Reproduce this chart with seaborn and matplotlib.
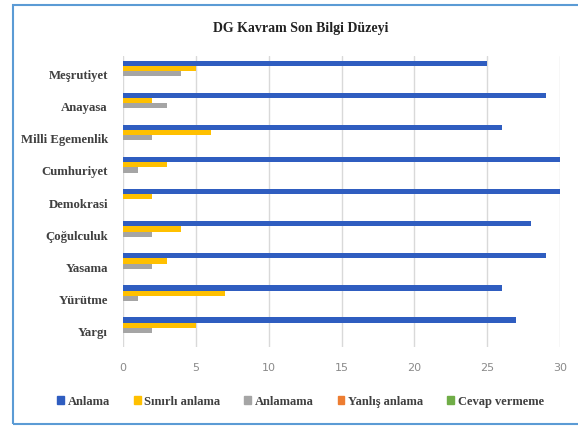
import pandas as pd
import seaborn as sns
import matplotlib.pyplot as plt
from matplotlib.patches import Patch, Rectangle

### data
kavramlar = ['Meşrutiyet', 'Anayasa', 'Milli Egemenlik', 'Cumhuriyet', 'Demokrasi',
             'Çoğulculuk', 'Yasama', 'Yürütme', 'Yargı']
anlama = [25, 29, 26, 30, 30, 28, 29, 26, 27]
sinirli_anlama = [5, 2, 6, 3, 2, 4, 3, 7, 5]
anlamama = [4, 3, 2, 1, 0, 2, 2, 1, 2]
yanlis_anlama = [0, 0, 0, 0, 0, 0, 0, 0, 0]
cevap_vermeme = [0, 0, 0, 0, 0, 0, 0, 0, 0]

seriler = ['Anlama', 'Sınırlı anlama', 'Anlamama', 'Yanlış anlama', 'Cevap vermeme']
renkler = ['#2f5dc0', '#ffc000', '#a5a5a5', '#ed7d31', '#70ad47']

### long format table for seaborn
df = pd.DataFrame({'Kavram': kavramlar, 'Anlama': anlama, 'Sınırlı anlama': sinirli_anlama,
                   'Anlamama': anlamama, 'Yanlış anlama': yanlis_anlama,
                   'Cevap vermeme': cevap_vermeme})
long_df = df.melt(id_vars='Kavram', var_name='Seri', value_name='Deger')

sns.set_theme(style='white')
plt.rcParams['font.family'] = ['Liberation Serif', 'DejaVu Serif']

fig = plt.figure(figsize=(5.78, 4.27), dpi=100)
ax = fig.add_axes([0.213, 0.185, 0.756, 0.682])

sns.barplot(data=long_df, y='Kavram', x='Deger', hue='Seri', order=kavramlar,
            hue_order=seriler, palette=renkler, orient='h', width=0.8, gap=0,
            linewidth=0, saturation=1, errorbar=None, legend=False, ax=ax)

ax.set_xlim(0, 30)
ax.set_ylim(8.52, -0.56)
ax.set_xticks(range(0, 31, 5))
ax.xaxis.grid(True, color='#d9d9d9', linewidth=1)
ax.set_axisbelow(True)
for s in ax.spines.values():
    s.set_visible(False)
ax.set_xlabel('')
ax.set_ylabel('')
ax.tick_params(axis='x', length=0, pad=11, labelsize=8, labelcolor='#8a8a8a')
ax.tick_params(axis='y', length=0, pad=11, labelsize=9.2, labelcolor='#404040')
for lbl in ax.get_xticklabels():
    lbl.set_family('DejaVu Sans')
for lbl in ax.get_yticklabels():
    lbl.set_fontweight('bold')

fig.text(0.52, 0.933, 'DG Kavram Son Bilgi Düzeyi', ha='center', va='center',
         fontsize=10, fontweight='bold', color='#222222')

handles = [Patch(color=c, label=s) for s, c in zip(seriler, renkler)]
leg = fig.legend(handles=handles, loc='center', bbox_to_anchor=(0.52, 0.058), ncol=5,
                 frameon=False, handlelength=0.55, handleheight=0.55, handletextpad=0.3,
                 columnspacing=1.9, prop={'size': 9, 'weight': 'bold'})
for t in leg.get_texts():
    t.set_color('#404040')

### blue frame around the chart
fig.patches.append(Rectangle((13 / 578, 2 / 427), 1.0, 419 / 427, transform=fig.transFigure,
                             fill=False, edgecolor='#5b9bd5', linewidth=1.5))

fig.savefig('out.png', dpi=100)
